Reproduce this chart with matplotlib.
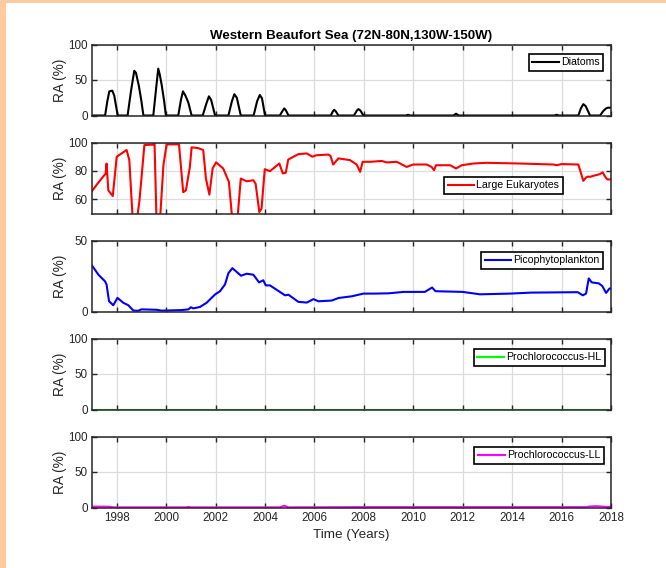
import numpy as np
import matplotlib
matplotlib.use("Agg")
import matplotlib.pyplot as plt
from matplotlib.patches import Rectangle

plt.rcParams['font.family'] = ['Liberation Sans', 'DejaVu Sans']

title = "Western Beaufort Sea (72N-80N,130W-150W)"
xlabel = "Time (Years)"
ylabel = "RA (%)"

# ---- Diatoms ----
diat_t = [1997.0, 1997.53, 1997.62, 1997.7, 1997.82, 1997.9, 1998.04,
          1998.44, 1998.58, 1998.71, 1998.78, 1998.9, 1999.0, 1999.08,
          1999.48, 1999.6, 1999.68, 1999.74, 1999.82, 1999.92, 1999.99,
          2000.49, 2000.6, 2000.68, 2000.78, 2000.9, 2001.03,
          2001.48, 2001.62, 2001.73, 2001.82, 2001.98,
          2002.52, 2002.66, 2002.76, 2002.86, 2003.02,
          2003.54, 2003.68, 2003.79, 2003.88, 2004.0,
          2004.6, 2004.72, 2004.78, 2004.85, 2004.95,
          2006.66, 2006.75, 2006.8, 2006.86, 2006.97,
          2007.6, 2007.72, 2007.78, 2007.86, 2007.98,
          2009.7, 2009.79, 2009.88,
          2011.62, 2011.73, 2011.84,
          2015.7, 2015.8, 2015.9,
          2016.68, 2016.78, 2016.88, 2016.98, 2017.15,
          2017.56, 2017.68, 2017.8, 2017.88, 2018.0]
diat_v = [0, 0, 20, 34, 35, 28, 0,
          0, 35, 63, 60, 41, 20, 0,
          0, 40, 66, 58, 43, 20, 0,
          0, 22, 34, 28, 18, 0,
          0, 16, 27, 22, 0,
          0, 20, 30, 25, 0,
          0, 20, 29, 24, 0,
          0, 7, 10, 7, 0,
          0, 6, 8, 6, 0,
          0, 7, 9, 7, 0,
          0, 1, 0,
          0, 2.5, 0,
          0, 1, 0,
          0, 10, 16, 13, 0,
          0, 6, 10, 11, 11]

# ---- Large Eukaryotes ----
leuk_t = [1997.0, 1997.2, 1997.46, 1997.55, 1997.59, 1997.66, 1997.84, 1998.0,
          1998.4, 1998.51, 1998.65, 1998.81, 1998.92, 1999.12, 1999.48, 1999.53,
          1999.61, 1999.75, 1999.89, 2000.02, 2000.52, 2000.69, 2000.8, 2000.96,
          2001.03, 2001.3, 2001.5, 2001.61, 2001.75, 2001.88, 2002.02, 2002.31,
          2002.54, 2002.68, 2002.88, 2003.02, 2003.26, 2003.53, 2003.62, 2003.77,
          2003.86, 2003.99, 2004.2, 2004.58, 2004.72, 2004.84, 2004.94, 2005.35,
          2005.69, 2005.92, 2006.07, 2006.57, 2006.65, 2006.76, 2006.97, 2007.44,
          2007.71, 2007.85, 2007.95, 2008.25, 2008.72, 2008.92, 2009.33, 2009.73,
          2010.0, 2010.54, 2010.74, 2010.84, 2010.92, 2011.49, 2011.73, 2011.96,
          2012.43, 2012.97, 2014.32, 2015.67, 2015.8, 2016.0, 2016.68, 2016.77,
          2016.88, 2016.99, 2017.08, 2017.15, 2017.28, 2017.55, 2017.66, 2017.76,
          2017.85, 2018.0]
leuk_v = [65.8, 70.5, 76.2, 78, 85.2, 66.3, 62.3, 90,
          94.7, 87.6, 45, 45, 59, 98.2, 98.5, 100,
          45, 45, 84, 98.7, 98.7, 65, 66.3, 82.8,
          96.6, 96, 94.7, 74.6, 63.3, 81.7, 86, 81.7,
          72.2, 45, 45, 74.6, 72.7, 73.4, 71, 51,
          53.5, 81.2, 79.8, 85.2, 78.2, 78.7, 88, 91.8,
          92.3, 90, 91, 91.5, 90.5, 84.5, 88.8, 87.6,
          84.5, 79.3, 86.4, 86.4, 87, 86, 86.4, 82.8,
          84.5, 84.5, 82.8, 80.5, 84, 84, 81.7, 84,
          85.2, 85.7, 85.2, 84.5, 84, 84.8, 84.5, 79.3,
          73, 75.4, 76, 75.8, 76.5, 77.7, 79, 76,
          74, 74]

# ---- Picophytoplankton ----
pico_t = [1997.0, 1997.26, 1997.53, 1997.59, 1997.69, 1997.86, 1998.03, 1998.27,
          1998.47, 1998.67, 1998.87, 1999.0, 1999.62, 1999.82, 2000.63, 2000.9,
          2001.0, 2001.1, 2001.37, 2001.64, 2001.98, 2002.18, 2002.38, 2002.52,
          2002.68, 2003.03, 2003.26, 2003.53, 2003.76, 2003.93, 2004.03, 2004.2,
          2004.81, 2004.95, 2005.35, 2005.69, 2005.96, 2006.16, 2006.7, 2006.97,
          2007.51, 2007.98, 2008.4, 2009.0, 2009.61, 2010.47, 2010.76, 2010.9,
          2012.0, 2012.7, 2013.9, 2014.76, 2016.65, 2016.86, 2016.99, 2017.1,
          2017.22, 2017.51, 2017.65, 2017.8, 2017.94, 2018.0]
pico_v = [32.4, 25.9, 21.2, 18.9, 7.2, 4.4, 9.6, 6.1,
          4.4, 0.7, 0.5, 1.5, 1.2, 0.6, 1.0, 1.5,
          3.0, 2.2, 3.2, 6.2, 12, 14.3, 19, 27,
          30.5, 25.2, 26.6, 25.9, 20.5, 22, 18.4, 18.4,
          11.4, 11.8, 6.8, 6.3, 8.7, 7.2, 7.7, 9.5,
          10.7, 12.6, 12.6, 12.8, 13.8, 13.8, 16.9, 14.3,
          13.8, 12.1, 12.6, 13.3, 13.6, 11.4, 12.6, 23.3,
          20.5, 19.8, 17.9, 13.1, 16.2, 16.2]

# ---- Prochlorococcus ----
hl_t = [1997.0, 2018.0]
hl_v = [0, 0]

ll_t = [1997.0, 1997.5, 1997.7, 1997.85, 2000.8, 2000.9, 2001.0, 2004.6, 2004.78,
        2004.95, 2008.0, 2017.0, 2017.15, 2017.4, 2017.7, 2017.85, 2018.0]
ll_v = [1.2, 1.2, 1.0, 0.2, 0.2, 0.8, 0.2, 0.2, 2.5,
        0.2, 0.5, 0.5, 1.5, 1.8, 1.2, 0.8, 1.0]

series = [
    (diat_t, diat_v, "Diatoms", "#000000", (0, 100), [0, 50, 100]),
    (leuk_t, leuk_v, "Large Eukaryotes", "#FF0000", (50, 100), [60, 80, 100]),
    (pico_t, pico_v, "Picophytoplankton", "#0000FF", (0, 50), [0, 50]),
    (hl_t, hl_v, "Prochlorococcus-HL", "#00FF00", (0, 100), [0, 50, 100]),
    (ll_t, ll_v, "Prochlorococcus-LL", "#FF00FF", (0, 100), [0, 50, 100]),
]
legend_anchor = [(0.985, 0.87), (0.907, 0.52), (0.985, 0.845),
                 (0.988, 0.855), (0.986, 0.855)]

W, H = 666, 568
fig = plt.figure(figsize=(W / 100, H / 100), dpi=100)
fig.patch.set_facecolor("white")
peach = "#FDCB9E"
fig.patches.append(Rectangle((0, 1 - 3 / H), 1, 3 / H, transform=fig.transFigure,
                             facecolor=peach, edgecolor="none", zorder=0))
fig.patches.append(Rectangle((0, 0), 6 / W, 1, transform=fig.transFigure,
                             facecolor=peach, edgecolor="none", zorder=0))

left_px, right_px = 92, 611
tops = [44.5, 142.5, 240.5, 338.5, 436.5]
h_px = 71
axcol = "#262626"

xticks = list(range(1998, 2019, 2))
axes = []
for i, (t, v, name, col, ylim, yticks) in enumerate(series):
    ax = fig.add_axes([left_px / W, 1 - (tops[i] + h_px) / H,
                       (right_px - left_px) / W, h_px / H])
    ax.plot(t, v, color=col, lw=1.5, label=name, clip_on=True)
    ax.set_xlim(1997, 2018)
    ax.set_ylim(*ylim)
    ax.set_yticks(yticks)
    ax.set_xticks(xticks)
    ax.grid(True, color="#DCDCDC", lw=0.9)
    ax.set_axisbelow(True)
    ax.tick_params(direction="in", length=3.5, width=1.0, colors=axcol,
                   labelsize=8.4, top=True, right=True, pad=3)
    for s in ax.spines.values():
        s.set_color(axcol)
        s.set_linewidth(1.1)
    if i < 4:
        ax.set_xticklabels([])
    ax.set_ylabel(ylabel, fontsize=9.8, color=axcol)
    ax.yaxis.set_label_coords(-0.048, 0.5)
    leg = ax.legend(loc="upper right", bbox_to_anchor=legend_anchor[i],
                    borderaxespad=0, fancybox=False, framealpha=1,
                    edgecolor="#000000", fontsize=7.6, handlelength=2.5,
                    handletextpad=0.2, borderpad=0.35, labelspacing=0.2)
    leg.get_frame().set_linewidth(1.2)
    axes.append(ax)

axes[0].set_title(title, fontsize=9.6, fontweight="bold", color="#000000", pad=4)
axes[-1].set_xlabel(xlabel, fontsize=9.7, color=axcol, labelpad=4)

fig.savefig("out.png", dpi=100)
